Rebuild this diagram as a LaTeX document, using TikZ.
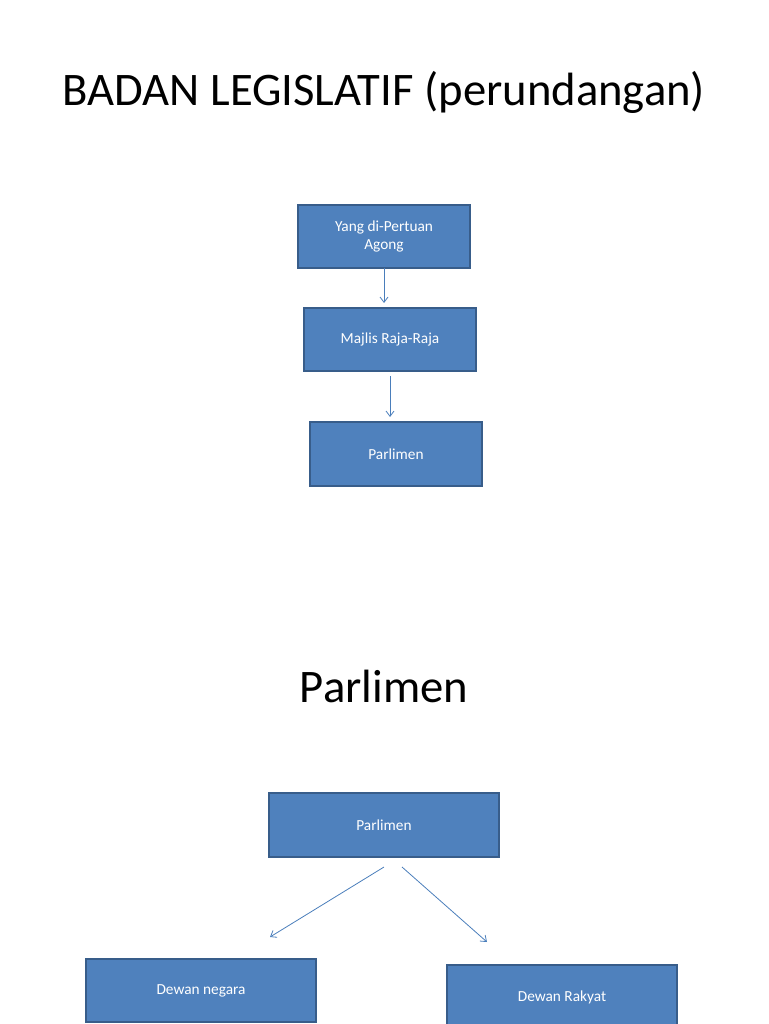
\documentclass[tikz,border=0pt]{standalone}
\usepackage{fontspec}
\usetikzlibrary{arrows.meta}
\setmainfont{Carlito}
\begin{document}
\begin{tikzpicture}[x=0.75pt,y=-0.75pt,
  bx/.style={draw=boxline,fill=boxfill,line width=1.2pt,text=white,font=\fontsize{11.5}{13.5}\selectfont,align=center,inner sep=0pt},
  arr/.style={draw=arrcol,line width=0.6pt,-{Straight Barb[length=4pt,width=6pt]}}]
\definecolor{boxfill}{HTML}{4F81BD}
\definecolor{boxline}{HTML}{385D8A}
\definecolor{arrcol}{HTML}{4A7EBB}
\useasboundingbox (0,0) rectangle (768,1024);
\node[font=\fontsize{35}{40}\selectfont] (t1) at (384,92) {BADAN LEGISLATIF (perundangan)};
\node[font=\fontsize{35}{40}\selectfont] (t2) at (384,686) {Parlimen};
\node[bx,minimum width=172*0.75pt,minimum height=63*0.75pt] (a) at (384,236.5) {Yang di-Pertuan\\Agong};
\node[bx,minimum width=172*0.75pt,minimum height=63*0.75pt] (b) at (390,339.5) {Majlis Raja-Raja};
\node[bx,minimum width=172*0.75pt,minimum height=64*0.75pt] (c) at (396,454) {Parlimen};
\node[bx,minimum width=230*0.75pt,minimum height=64*0.75pt] (d) at (384,825) {Parlimen};
\node[bx,minimum width=230*0.75pt,minimum height=63*0.75pt] (e) at (201,990.5) {Dewan negara};
\node[bx,minimum width=230*0.75pt,minimum height=64*0.75pt] (f) at (562,997) {Dewan Rakyat};
\coordinate (a1) at (384,268); \coordinate (a2) at (384,303);
\coordinate (b1) at (390,376); \coordinate (b2) at (390,417);
\coordinate (d1) at (384,867); \coordinate (d2) at (270,937);
\coordinate (d3) at (402,867); \coordinate (d4) at (487,942);
\draw[arr] (a1) -- (a2);
\draw[arr] (b1) -- (b2);
\draw[arr] (d1) -- (d2);
\draw[arr] (d3) -- (d4);
\end{tikzpicture}
\end{document}
